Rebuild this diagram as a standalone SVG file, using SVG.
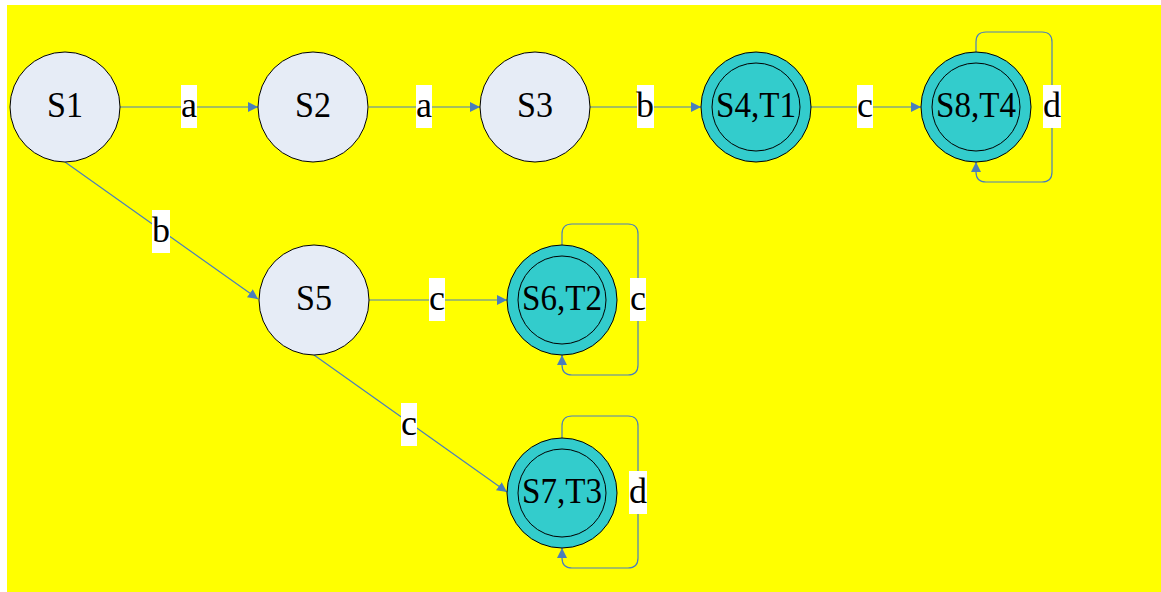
<svg xmlns="http://www.w3.org/2000/svg" width="1161" height="592" viewBox="0 0 1161 592">
  <style>
    .state { fill: #e6ecf6; stroke: #000; stroke-width: 1; }
    .final { fill: #33cccc; stroke: #000; stroke-width: 1; }
    .inner { fill: none; stroke: #000; stroke-width: 1; }
    .name { font-family: "Liberation Serif", "Times New Roman", serif; font-size: 36px; fill: #000; text-anchor: middle; }
    .edge { fill: none; stroke: #4a7ebb; stroke-width: 1.2; marker-end: url(#arrow); }
    .lbox { fill: #fff; }
  </style>
  <defs>
    <marker id="arrow" markerUnits="userSpaceOnUse" markerWidth="10" markerHeight="10" refX="10" refY="5" orient="auto">
      <path d="M0,0 L10,5 L0,10 z" fill="#4a7ebb"/>
    </marker>
  </defs>

  <rect x="0" y="0" width="1161" height="592" fill="#fff"/>
  <rect x="7" y="5" width="1154" height="587" fill="#ffff00"/>

  <!-- transitions -->
  <g id="edges">
    <path class="edge" d="M120,107 H258"/>
    <path class="edge" d="M369,107 H480"/>
    <path class="edge" d="M590,107 H701"/>
    <path class="edge" d="M811,107 H921"/>
    <path class="edge" d="M976,52 V42 Q976,32 986,32 H1042 Q1052,32 1052,42 V172 Q1052,182 1042,182 H986 Q976,182 976,172 V162"/>
    <path class="edge" d="M65,162 L258,299"/>
    <path class="edge" d="M369,300 H507"/>
    <path class="edge" d="M562,245 V234 Q562,224 572,224 H628 Q638,224 638,234 V365 Q638,375 628,375 H572 Q562,375 562,365 V355"/>
    <path class="edge" d="M314,355 L507,492"/>
    <path class="edge" d="M562,438 V426 Q562,416 572,416 H628 Q638,416 638,426 V558 Q638,568 628,568 H572 Q562,568 562,558 V548"/>

    <rect class="lbox" x="181" y="85" width="16" height="43"/>
    <text class="name" x="189" y="117">a</text>
    <rect class="lbox" x="416" y="85" width="16" height="43"/>
    <text class="name" x="424" y="117">a</text>
    <rect class="lbox" x="637" y="85" width="17" height="43"/>
    <text class="name" x="645" y="117">b</text>
    <rect class="lbox" x="857" y="85" width="16" height="43"/>
    <text class="name" x="865" y="117">c</text>
    <rect class="lbox" x="1043" y="85" width="18" height="43"/>
    <text class="name" x="1052" y="117">d</text>
    <rect class="lbox" x="152" y="210" width="18" height="43"/>
    <text class="name" x="161" y="242">b</text>
    <rect class="lbox" x="429" y="278" width="16" height="43"/>
    <text class="name" x="437" y="310">c</text>
    <rect class="lbox" x="630" y="278" width="16" height="43"/>
    <text class="name" x="638" y="310">c</text>
    <rect class="lbox" x="401" y="403" width="16" height="43"/>
    <text class="name" x="409" y="435">c</text>
    <rect class="lbox" x="629" y="471" width="18" height="43"/>
    <text class="name" x="638" y="503">d</text>
  </g>

  <g id="S1">
    <circle class="state" cx="65" cy="107" r="55"/>
    <text class="name" x="65" y="117" textLength="36" lengthAdjust="spacingAndGlyphs">S1</text>
  </g>
  <g id="S2">
    <circle class="state" cx="313" cy="107" r="55"/>
    <text class="name" x="313" y="117" textLength="36" lengthAdjust="spacingAndGlyphs">S2</text>
  </g>
  <g id="S3">
    <circle class="state" cx="535" cy="107" r="55"/>
    <text class="name" x="535" y="117" textLength="36" lengthAdjust="spacingAndGlyphs">S3</text>
  </g>
  <g id="S4">
    <circle class="final" cx="756" cy="107" r="55"/>
    <circle class="inner" cx="756" cy="107" r="44"/>
    <text class="name" x="756" y="117" textLength="80" lengthAdjust="spacingAndGlyphs">S4,T1</text>
  </g>
  <g id="S8">
    <circle class="final" cx="976" cy="107" r="55"/>
    <circle class="inner" cx="976" cy="107" r="44"/>
    <text class="name" x="976" y="117" textLength="80" lengthAdjust="spacingAndGlyphs">S8,T4</text>
  </g>
  <g id="S5">
    <circle class="state" cx="314" cy="300" r="55"/>
    <text class="name" x="314" y="310" textLength="36" lengthAdjust="spacingAndGlyphs">S5</text>
  </g>
  <g id="S6">
    <circle class="final" cx="562" cy="300" r="55"/>
    <circle class="inner" cx="562" cy="300" r="44"/>
    <text class="name" x="562" y="310" textLength="80" lengthAdjust="spacingAndGlyphs">S6,T2</text>
  </g>
  <g id="S7">
    <circle class="final" cx="562" cy="493" r="55"/>
    <circle class="inner" cx="562" cy="493" r="44"/>
    <text class="name" x="562" y="503" textLength="80" lengthAdjust="spacingAndGlyphs">S7,T3</text>
  </g>
</svg>
